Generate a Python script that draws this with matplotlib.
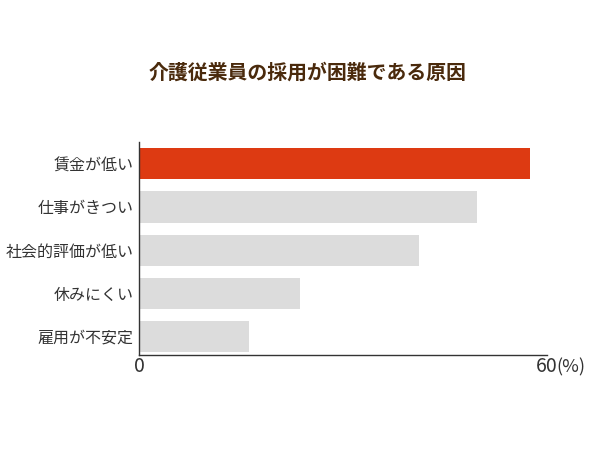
import matplotlib
matplotlib.use("Agg")
import matplotlib.pyplot as plt

plt.rcParams['font.family'] = ['Noto Sans CJK JP', 'DejaVu Sans']

reasons = ["賃金が低い", "仕事がきつい", "社会的評価が低い", "休みにくい", "雇用が不安定"]
values = [57.5, 49.7, 41.2, 23.7, 16.2]
bar_colors = ["#dd3a12", "#dcdcdc", "#dcdcdc", "#dcdcdc", "#dcdcdc"]
title = "介護従業員の採用が困難である原因"

fig = plt.figure(figsize=(6, 4.5), dpi=100)
ax = fig.add_axes([0.2317, 0.211, 0.68, 0.473])

pos = list(range(len(reasons)))
ax.barh(pos, values, height=0.72, color=bar_colors)
ax.set_xlim(0, 60)
ax.set_ylim(4.43, -0.5)

ax.set_yticks(pos)
ax.set_yticklabels(reasons, fontsize=11.5, color="#333333")
ax.set_xticks([0, 60])
ax.set_xticklabels(["0", "60"], fontsize=14, color="#333333")
ax.tick_params(length=0, pad=1)
ax.tick_params(axis="y", pad=4)
ax.annotate("(%)", xy=(60, 0), xycoords=("data", "axes fraction"),
            xytext=(6.5, -2), textcoords="offset points", ha="left", va="top",
            fontsize=13, color="#333333")

for side in ["top", "right"]:
    ax.spines[side].set_visible(False)
for side in ["left", "bottom"]:
    ax.spines[side].set_color("#333333")
    ax.spines[side].set_linewidth(1)

fig.text(0.513, 0.84, title, ha="center", va="center", fontsize=14.3,
         fontweight="bold", color="#4a2a0c")

fig.savefig("out.png", dpi=100)
